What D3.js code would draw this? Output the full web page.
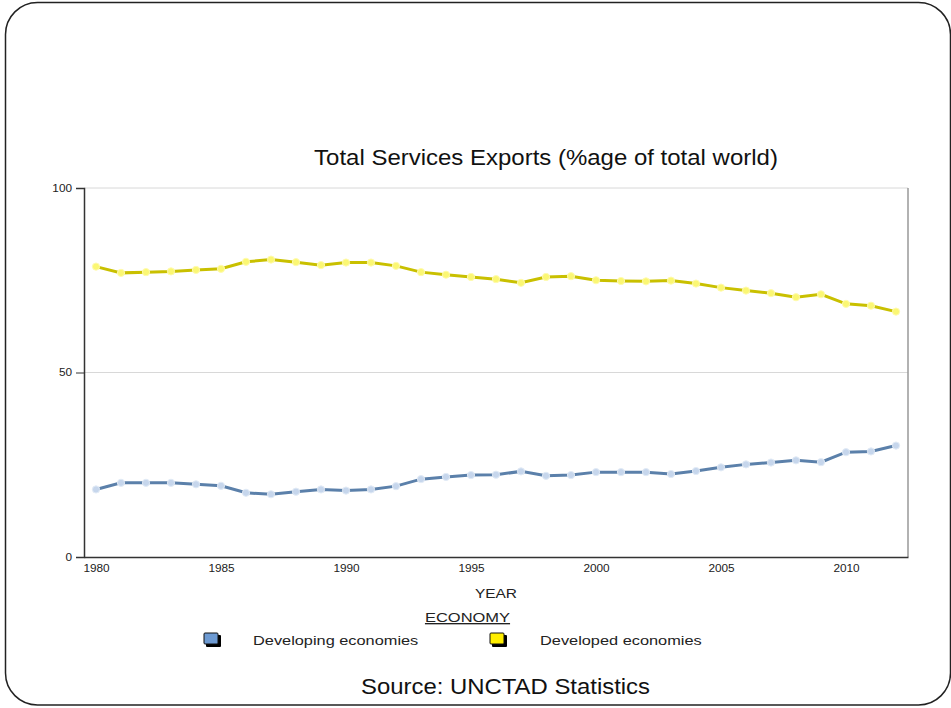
<!DOCTYPE html>
<html>
<head>
<meta charset="utf-8">
<script src="https://cdn.jsdelivr.net/npm/d3@7"></script>
<style>
  body { margin: 0; background: #fff; }
  svg { display: block; font-family: "Liberation Sans", Arial, sans-serif; }
</style>
</head>
<body>
<div id="chart"></div>
<script>
const years = d3.range(1980, 2013)
const developing = [18.3, 20.1, 20.1, 20.1, 19.7, 19.3, 17.4, 17.0, 17.7, 18.3,
  18.0, 18.3, 19.2, 21.1, 21.7, 22.2, 22.3, 23.2, 22.0, 22.2,
  23.0, 23.0, 23.0, 22.5, 23.3, 24.3, 25.1, 25.6, 26.2, 25.7,
  28.4, 28.6, 30.2]
const developed = [78.7, 77.0, 77.2, 77.4, 77.8, 78.1, 80.0, 80.6, 79.9, 79.1,
  79.8, 79.8, 78.9, 77.2, 76.5, 75.9, 75.3, 74.3, 75.9, 76.1,
  75.0, 74.8, 74.7, 74.9, 74.1, 73.0, 72.2, 71.5, 70.4, 71.2,
  68.6, 68.1, 66.5]
const yTicks = [0, 50, 100]
const xTicks = [1980, 1985, 1990, 1995, 2000, 2005, 2010]
const seriesNames = ['Developing economies', 'Developed economies']

const W = 951, H = 708
const svg = d3.select('#chart').append('svg').attr('width', W).attr('height', H)

// the slide is a bit stretched sideways, so widen the text to match
const stretch = (sel, k) => sel.each(function () {
  const w = this.getComputedTextLength()
  d3.select(this).attr('textLength', w * k).attr('lengthAdjust', 'spacingAndGlyphs')
})

// slide frame
svg.append('rect')
  .attr('x', 5.5).attr('y', 2.5).attr('width', 945).attr('height', 702.5)
  .attr('rx', 32).attr('ry', 32)
  .attr('fill', 'none').attr('stroke', '#222').attr('stroke-width', 1.5)

svg.append('text')
  .attr('x', 546).attr('y', 165)
  .attr('text-anchor', 'middle').attr('font-size', 22).attr('fill', '#111')
  .text('Total Services Exports (%age of total world)')
  .call(stretch, 1.09)

const plotL = 84, plotR = 908, plotT = 188, plotB = 557

const x = d3.scaleLinear().domain([1979.52, 2012.48]).range([plotL, plotR])
const y = d3.scaleLinear().domain([0, 100]).range([plotB, plotT])

// gridlines
svg.append('g').selectAll('line').data([50, 100]).enter().append('line')
  .attr('x1', plotL).attr('x2', plotR)
  .attr('y1', d => y(d)).attr('y2', d => y(d))
  .attr('stroke', '#d8d8d8').attr('stroke-width', 1)

// right border
svg.append('line')
  .attr('x1', plotR).attr('x2', plotR).attr('y1', plotT).attr('y2', plotB)
  .attr('stroke', '#999').attr('stroke-width', 1.5)

// y axis
const yAxis = svg.append('g')
  .attr('transform', `translate(${plotL},0)`)
  .call(d3.axisLeft(y).tickValues(yTicks).tickSize(8).tickPadding(4))
yAxis.select('.domain').attr('stroke', '#333').attr('stroke-width', 1.5)
yAxis.selectAll('.tick line').attr('stroke', '#333')
yAxis.selectAll('text').attr('font-size', 10).attr('fill', '#222')
  .attr('font-family', '"Liberation Sans", Arial, sans-serif')
  .call(stretch, 1.18)

// x axis
const xAxis = svg.append('g')
  .attr('transform', `translate(0,${plotB})`)
  .call(d3.axisBottom(x).tickValues(xTicks).tickFormat(d3.format('d')).tickSize(0).tickPadding(8))
xAxis.select('.domain').attr('stroke', '#333').attr('stroke-width', 1.5)
xAxis.selectAll('text').attr('font-size', 10).attr('fill', '#222')
  .attr('font-family', '"Liberation Sans", Arial, sans-serif')
  .call(stretch, 1.18)

svg.append('text')
  .attr('x', 496).attr('y', 598)
  .attr('text-anchor', 'middle').attr('font-size', 13).attr('fill', '#222')
  .text('YEAR')
  .call(stretch, 1.19)

const line = d3.line().x((d, i) => x(years[i])).y(d => y(d))

const series = [
  { name: seriesNames[0], values: developing, line: '#5b80aa', dot: '#c6d6ec', dotStroke: '#e2ebf6', swatch: '#6d9ad2' },
  { name: seriesNames[1], values: developed, line: '#c9c000', dot: '#fbf774', dotStroke: '#fffbb0', swatch: '#ffee00' }
]

series.forEach(s => {
  svg.append('path').datum(s.values)
    .attr('d', line)
    .attr('fill', 'none').attr('stroke', s.line).attr('stroke-width', 3)
  svg.append('g').selectAll('circle').data(s.values).enter().append('circle')
    .attr('cx', (d, i) => x(years[i]))
    .attr('cy', d => y(d))
    .attr('r', 3.6)
    .attr('fill', s.dot).attr('stroke', s.dotStroke).attr('stroke-width', 1)
})

// legend
svg.append('text')
  .attr('x', 467.5).attr('y', 622)
  .attr('text-anchor', 'middle').attr('font-size', 13.5).attr('fill', '#222')
  .attr('text-decoration', 'underline')
  .text('ECONOMY')
  .call(stretch, 1.22)

const legendX = [204, 490]
series.forEach((s, i) => {
  const g = svg.append('g').attr('transform', `translate(${legendX[i]},633)`)
  g.append('rect').attr('x', 2).attr('y', 2).attr('width', 15).attr('height', 12)
    .attr('fill', '#000').attr('rx', 1)
  g.append('rect').attr('x', 0).attr('y', 0).attr('width', 14).attr('height', 11)
    .attr('fill', s.swatch).attr('stroke', '#111').attr('stroke-width', 1).attr('rx', 1)
  g.append('text').attr('x', i === 0 ? 49 : 50).attr('y', 11.5)
    .attr('font-size', 13.5).attr('fill', '#222')
    .text(s.name)
    .call(stretch, 1.21)
})

svg.append('text')
  .attr('x', 505.5).attr('y', 694)
  .attr('text-anchor', 'middle').attr('font-size', 22).attr('fill', '#111')
  .text('Source: UNCTAD Statistics')
  .call(stretch, 1.086)
</script>
</body>
</html>
